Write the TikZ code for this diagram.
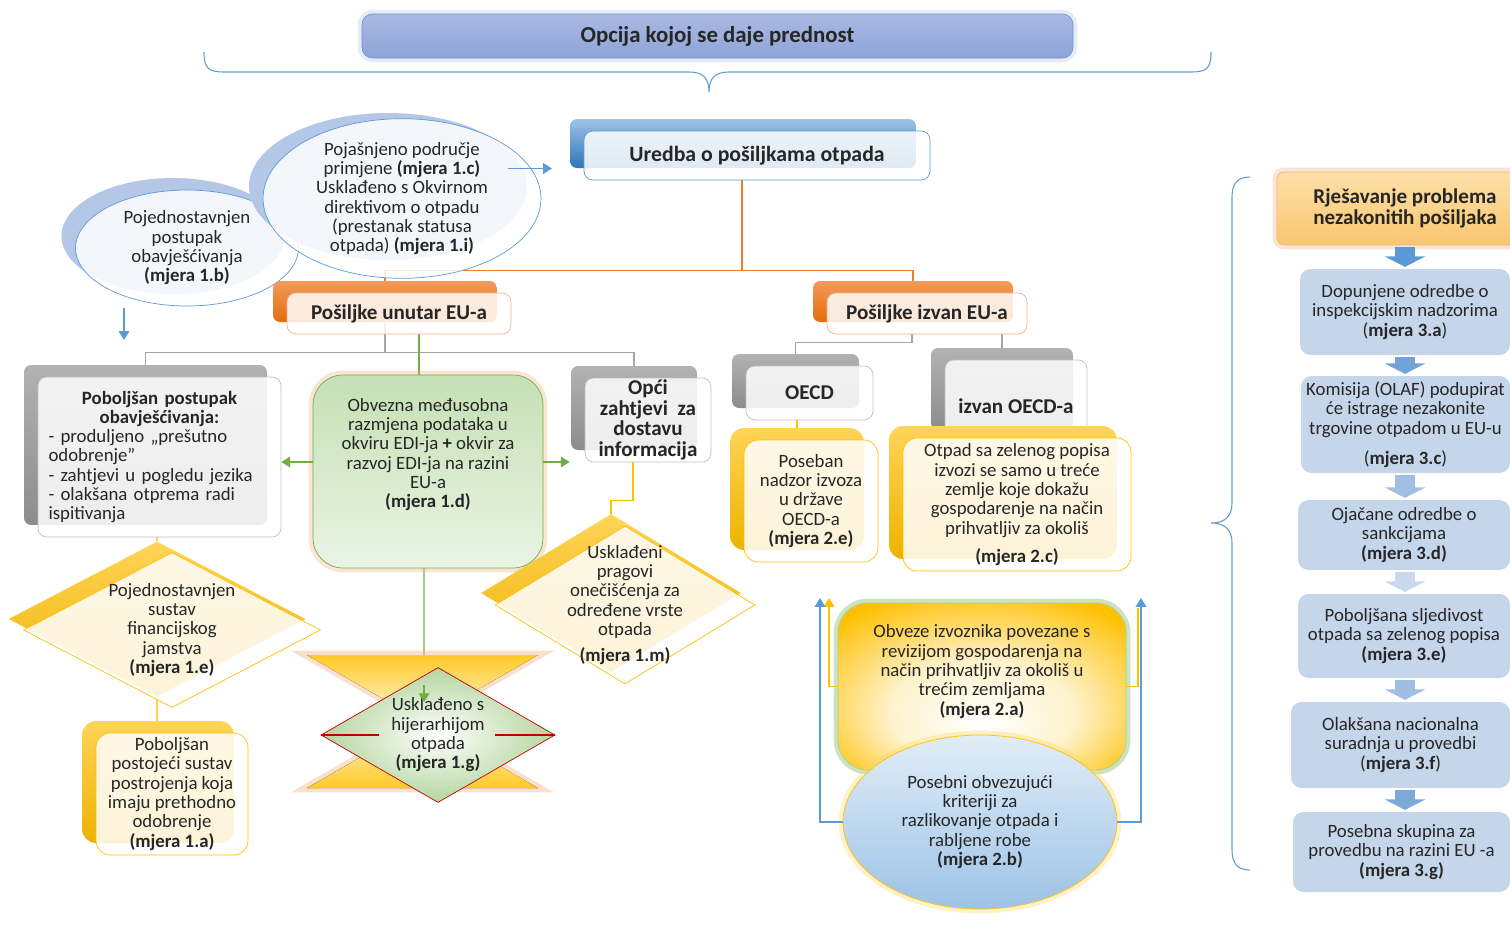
\documentclass[tikz,border=0pt]{standalone}
\usepackage{fontspec}
\setmainfont{Carlito}
\usetikzlibrary{shapes.geometric, arrows.meta, backgrounds}

\definecolor{ublue}{HTML}{5B9BD5}
\definecolor{sblue}{HTML}{B4C7E7}
\definecolor{tblueA}{HTML}{AAB9E3}
\definecolor{tblueB}{HTML}{8EA3D8}
\definecolor{tbord}{HTML}{6C8ED3}
\definecolor{pblueA}{HTML}{9DC3E6}
\definecolor{pblueB}{HTML}{2E75B6}
\definecolor{orng}{HTML}{ED7D31}
\definecolor{lorng}{HTML}{F4B183}
\definecolor{porngA}{HTML}{F39A5C}
\definecolor{porngB}{HTML}{E46C0A}
\definecolor{gryA}{HTML}{B2B2B2}
\definecolor{gryB}{HTML}{8C8C8C}
\definecolor{gline}{HTML}{A6A6A6}
\definecolor{gbord}{HTML}{BFBFBF}
\definecolor{ylw}{HTML}{FFC000}
\definecolor{pylwA}{HTML}{FFD457}
\definecolor{pylwB}{HTML}{EDB200}
\definecolor{grn}{HTML}{70AD47}
\definecolor{lgrn}{HTML}{C5E0B4}
\definecolor{llgrn}{HTML}{EAF4E4}
\definecolor{steel}{HTML}{C5D5EA}
\definecolor{dred}{HTML}{C00000}
\definecolor{rjA}{HTML}{FDE0A8}
\definecolor{rjB}{HTML}{F9C670}
\definecolor{txt}{HTML}{262626}
\definecolor{blk1}{HTML}{5B9BD5}
\definecolor{blk2}{HTML}{73A2D8}
\definecolor{blk3}{HTML}{A2BEE3}
\definecolor{blk4}{HTML}{C9D8EC}
\definecolor{blk5}{HTML}{A0BDE3}
\definecolor{blk6}{HTML}{7DA8DA}

\pgfdeclareradialshading{obvshade}{\pgfpoint{0bp}{-12bp}}{color(0bp)=(white); color(16bp)=(ylw!20); color(34bp)=(ylw); color(50bp)=(ylw)}

\tikzset{every node/.style={font=\fontsize{10.7}{11}\selectfont, text=txt, inner sep=0pt, align=center},
         head/.style={font=\fontsize{12}{11.8}\selectfont\bfseries},
         plate/.style={rounded corners=4pt, draw=none, top color=#1A, bottom color=#1B},
         card/.style={rounded corners=5pt, draw=#1, fill=white, fill opacity=0.85, text opacity=1},
         glow/.style={preaction={draw=#1, line width=5pt, draw opacity=0.35}},
         link/.style={draw=#1, line width=0.7pt},
         arr/.style={draw=#1, line width=0.9pt, -{Triangle[width=6pt,length=5pt]}},
         blockarr/.style={draw=#1, line width=11pt, -{Triangle[width=23pt,length=6pt]}, shorten <=1pt, shorten >=1pt},
         brace/.style={draw=ublue, line width=0.6pt},
         dplate/.style={diamond, draw=none, top color=pylwA, bottom color=pylwB, inner sep=-8pt},
         dfront/.style={diamond, draw=ylw, fill=white, fill opacity=0.85, text opacity=1, inner sep=-8pt},
         stepbox/.style={fill=steel, rounded corners=6pt},
        }

\begin{document}
\begin{tikzpicture}[x=0.02cm, y=-0.02cm]
        \useasboundingbox (0,0) rectangle (1510,924);

        % naslov
        \node[rounded corners=6pt, draw=tbord, top color=tblueA, bottom color=tblueB, glow=sblue,
              minimum width=14.22cm, minimum height=0.88cm, font=\fontsize{13}{13}\selectfont\bfseries] (title) at (717.5,36) {Opcija kojoj se daje prednost};
        \draw[brace] (204,52) .. controls (204,68) and (208,72) .. (224,72) -- (689,72)
              .. controls (703,72) and (709,78) .. (709,92) .. controls (709,78) and (715,72) .. (729,72)
              -- (1191,72) .. controls (1207,72) and (1211,68) .. (1211,52);

        % uredba
        \node[plate=pblue, minimum width=6.92cm, minimum height=0.98cm] (uredbaP) at (743,143.5) {};
        \node[card=ublue, minimum width=6.92cm, minimum height=0.98cm, font=\fontsize{12.4}{13}\selectfont\bfseries] (uredba) at (757,155.5) {Uredba o pošiljkama otpada};

        % elipse
        \node[ellipse, fill=sblue, minimum width=4.46cm, minimum height=2.32cm] (ellBP) at (173,236) {};
        \node[ellipse, draw=ublue, fill=white, fill opacity=0.85, text opacity=1, minimum width=4.46cm, minimum height=2.32cm] (ellB) at (187,248)
              {Pojednostavnjen\\postupak\\obavješćivanja\\\textbf{(mjera 1.b)}};
        \node[ellipse, fill=sblue, minimum width=5.56cm, minimum height=2.94cm] (ellCP) at (388,186.5) {};
        \node[ellipse, draw=ublue, fill=white, fill opacity=0.85, text opacity=1, minimum width=5.56cm, minimum height=2.94cm] (ellC) at (402,198.5)
              {Pojašnjeno područje\\primjene \textbf{(mjera 1.c)}\\Usklađeno s Okvirnom\\direktivom o otpadu\\(prestanak statusa\\otpada) \textbf{(mjera 1.i)}};
        \draw[arr=ublue] ([shift={(106,-30)}]ellC.center) -- ++(44,0);
        \draw[arr=ublue] ([shift={(-63,60)}]ellB.center) -- ++(0,32);

        % posiljke
        \node[plate=porng, minimum width=4.48cm, minimum height=0.82cm] (unutarP) at (385,301.5) {};
        \node[card=lorng, minimum width=4.48cm, minimum height=0.82cm, head] (unutar) at (399,313.5) {Pošiljke unutar EU-a};
        \node[plate=porng, minimum width=4cm, minimum height=0.82cm] (izvanP) at (913,301.5) {};
        \node[card=lorng, minimum width=4cm, minimum height=0.82cm, head] (izvan) at (927,313.5) {Pošiljke izvan EU-a};

        % unutar EU-a
        \node[plate=gry, minimum width=4.86cm, minimum height=3.2cm] (pobP) at (145.5,445) {};
        \node[card=gbord, minimum width=4.86cm, minimum height=3.2cm, text width=4.44cm, align=left] (pob) at (159.5,457)
              {{\centering\bfseries Poboljšan postupak\\obavješćivanja:\par}- produljeno „prešutno\\odobrenje”\\- zahtjevi u pogledu jezika\\- olakšana otprema radi\\ispitivanja};
        \node[plate=gry, minimum width=2.52cm, minimum height=1.68cm] (opciP) at (634,408) {};
        \node[card=gbord, minimum width=2.52cm, minimum height=1.68cm, head] (opci) at (648,420) {Opći\\zahtjevi\ \ za\\dostavu\\informacija};
        \node[rounded corners=17pt, draw=grn, top color=lgrn, bottom color=llgrn, glow=lorng, minimum width=4.6cm, minimum height=3.86cm] (edi) at (428,471.5)
              {Obvezna međusobna\\razmjena podataka u\\okviru EDI-ja \textbf{+} okvir za\\razvoj EDI-ja na razini\\EU-a\\\textbf{(mjera 1.d)}\\[10pt]\mbox{}};
        \draw[arr=grn] ([yshift=0.19cm]edi.west) -- ([yshift=0.19cm]edi.west -| pob.east);
        \draw[arr=grn, shorten >=0.3cm] ([yshift=0.19cm]edi.east) -- ([yshift=0.19cm]edi.east -| opci.west);

        \node[dplate, aspect=1.92, minimum width=5.94cm, minimum height=3.1cm] (dEP) at (157,619) {};
        \node[dfront, aspect=1.92, minimum width=5.94cm, minimum height=3.1cm] (dE) at (172,630)
              {Pojednostavnjen\\sustav\\financijskog\\jamstva\\\textbf{(mjera 1.e)}};
        \node[dplate, aspect=1.65, minimum width=5.2cm, minimum height=3.16cm] (dMP) at (611,593) {};
        \node[dfront, aspect=1.65, minimum width=5.2cm, minimum height=3.16cm] (dM) at (625,605)
              {Usklađeni\\pragovi\\onečišćenja za\\određene vrste\\otpada\\[4pt]\textbf{(mjera 1.m)}};
        \node[plate=pylw, rounded corners=8pt, minimum width=3.04cm, minimum height=2.44cm] (aP) at (158,782) {};
        \node[card=ylw, rounded corners=8pt, minimum width=3.04cm, minimum height=2.44cm] (a) at (172,794)
              {Poboljšan\\postojeći sustav\\postrojenja koja\\imaju prethodno\\odobrenje\\\textbf{(mjera 1.a)}};

        % hijerarhija
        \fill[top color=ylw!85, bottom color=ylw!85, middle color=ylw!12, preaction={draw=lorng, line width=5pt, draw opacity=0.4}]
              (307,655) -- (538,655) -- (307,788) -- (538,788) -- cycle;
        \node[diamond, draw=dred, inner color=white, outer color=lgrn!80!grn, aspect=1.73, inner sep=-8pt,
              minimum width=4.68cm, minimum height=2.7cm] (hier) at (438,735)
              {Usklađeno s\\hijerarhijom\\otpada\\\textbf{(mjera 1.g)}};
        \draw[dred, line width=0.7pt] (hier.west) -- ++(58,0);
        \draw[dred, line width=0.7pt] (hier.east) -- ++(-60,0);
        \draw[arr=grn] ([xshift=-0.28cm,yshift=-0.36cm]hier.north) -- ([xshift=-0.28cm,yshift=-0.7cm]hier.north);

        % izvan EU-a
        \node[plate=gry, minimum width=2.54cm, minimum height=1.08cm] (oecdP) at (795.5,381) {};
        \node[card=gbord, minimum width=2.54cm, minimum height=1.08cm, head] (oecd) at (809.5,393) {OECD};
        \node[plate=gry, minimum width=2.84cm, minimum height=1.64cm] (nonP) at (1002,389) {};
        \node[card=gbord, minimum width=2.84cm, minimum height=1.64cm, head] (non) at (1016,401) {\rule{0pt}{14pt}izvan OECD-a};
        \node[plate=pylw, rounded corners=8pt, minimum width=2.68cm, minimum height=2.44cm] (posP) at (797,489) {};
        \node[card=ylw, rounded corners=8pt, minimum width=2.68cm, minimum height=2.44cm] (pos) at (811,501)
              {Poseban\\nadzor izvoza\\u države\\OECD-a\\\textbf{(mjera 2.e)}};
        \node[plate=pylw, rounded corners=8pt, minimum width=4.56cm, minimum height=2.66cm] (greenP) at (1003,492.5) {};
        \node[card=ylw, rounded corners=8pt, minimum width=4.56cm, minimum height=2.66cm] (green) at (1017,504.5)
              {Otpad sa zelenog popisa\\izvozi se samo u treće\\zemlje koje dokažu\\gospodarenje na način\\prihvatljiv za okoliš\\[5pt]\textbf{(mjera 2.c)}};

        \node[rounded corners=17pt, draw=grn!60, shading=obvshade, glow=grn,
              minimum width=5.76cm, minimum height=3.34cm] (obv) at (982,686.5)
              {Obveze izvoznika povezane s\\revizijom gospodarenja na\\način prihvatljiv za okoliš u\\trećim zemljama\\\textbf{(mjera 2.a)}\\[8pt]\mbox{}};
        \node[ellipse, draw=ylw, top color=pblueA!30, bottom color=pblueA, glow=ylw!60,
              minimum width=5.48cm, minimum height=3.48cm] (crit) at (980,822)
              {Posebni obvezujući\\kriteriji za\\razlikovanje otpada i\\rabljene robe\\\textbf{(mjera 2.b)}};
        \coordinate (upLy) at (829,598);
        \coordinate (upRy) at (1138,608);
        \coordinate (upL) at (820,598);
        \coordinate (upR) at (1141,598);
        \draw[arr=ylw] (obv.west) -| (upLy);
        \draw[link=ylw, line width=0.9pt] (obv.east) -| (upRy);
        \draw[arr=ublue] (crit.west) -| (upL);
        \draw[arr=ublue] (crit.east) -| (upR);

        % nezakonite posiljke
        \draw[brace] (1250,177) .. controls (1238,177) and (1232,183) .. (1232,197) -- (1232,503)
              .. controls (1232,515) and (1226,523) .. (1211,523) .. controls (1226,523) and (1232,531) .. (1232,543)
              -- (1232,850) .. controls (1232,864) and (1238,870) .. (1250,870);
        \node[rounded corners=4pt, draw=lorng, top color=rjA, bottom color=rjB, glow=lorng, head,
              font=\fontsize{12}{12.3}\selectfont\bfseries, minimum width=5.12cm, minimum height=1.46cm] (rj) at (1405,208.5)
              {Rješavanje problema\\nezakonitih pošiljaka};
        \node[stepbox, minimum width=4.2cm, minimum height=1.72cm] (m3a) at (1405,312) {Dopunjene odredbe o\\inspekcijskim nadzorima\\(\textbf{mjera 3.a})};
        \node[stepbox, minimum width=4.18cm, minimum height=1.94cm] (m3c) at (1405.5,424.5) {Komisija (OLAF) podupirat\\će istrage nezakonite\\trgovine otpadom u EU-u\\[6pt](\textbf{mjera 3.c})};
        \node[stepbox, minimum width=4.24cm, minimum height=1.4cm] (m3d) at (1404,535) {Ojačane odredbe o\\sankcijama\\\textbf{(mjera 3.d)}};
        \node[stepbox, minimum width=4.24cm, minimum height=1.68cm] (m3e) at (1404,636) {Poboljšana sljedivost\\otpada sa zelenog popisa\\\textbf{(mjera 3.e)}};
        \node[stepbox, minimum width=4.38cm, minimum height=1.72cm] (m3f) at (1400.5,745) {Olakšana nacionalna\\suradnja u provedbi\\(\textbf{mjera 3.f})};
        \node[stepbox, minimum width=4.34cm, minimum height=1.6cm] (m3g) at (1401.5,852) {Posebna skupina za\\provedbu na razini EU -a\\\textbf{(mjera 3.g)}};
        \draw[blockarr=blk1] (rj.south) -- (m3a.north -| rj.south);
        \draw[blockarr=blk2] (m3a.south -| rj.south) -- (m3c.north -| rj.south);
        \draw[blockarr=blk3] (m3c.south -| rj.south) -- (m3d.north -| rj.south);
        \draw[blockarr=blk4] (m3d.south -| rj.south) -- (m3e.north -| rj.south);
        \draw[blockarr=blk5] (m3e.south -| rj.south) -- (m3f.north -| rj.south);
        \draw[blockarr=blk6] (m3f.south -| rj.south) -- (m3g.north -| rj.south);

        % veze
        \begin{scope}[on background layer]
        \draw[link=orng] ([xshift=-0.3cm]uredba.south) -- ++(0,90) -| (unutarP.north);
        \draw[link=orng] ([xshift=-0.3cm]uredba.south) -- ++(0,90) -| (izvanP.north);
        \draw[link=gline] (unutarP.south) -- ++(0,30) -| (pobP.north);
        \draw[link=gline] (unutarP.south) -- ++(0,30) -| (opciP.north);
        \draw[link=grn] ([xshift=0.4cm]unutar.south) -- ([xshift=0.4cm]unutar.south |- edi.north);
        \draw[link=grn] ([xshift=-0.08cm]edi.south) -- ([xshift=-0.28cm]hier.north);
        \draw[link=gline] ([xshift=-0.3cm]izvan.south) -- ++(0,8) -| (oecdP.north);
        \draw[link=gline] ([xshift=1.5cm]izvan.south) -- ([xshift=1.5cm]izvan.south |- nonP.north);
        \draw[link=ylw] ([xshift=-0.25cm]oecd.south) -- ([xshift=-0.25cm]oecd.south |- posP.north);
        \draw[link=ylw!70] (pob.south -| dEP.north) -- (dEP.north);
        \draw[link=ylw!70] (dEP.south) -- (dEP.south |- aP.north);
        \draw[link=ylw] ([xshift=-0.3cm]opci.south) -- ++(0,38) -| (dMP.north);
        \end{scope}
    \end{tikzpicture}
\end{document}
